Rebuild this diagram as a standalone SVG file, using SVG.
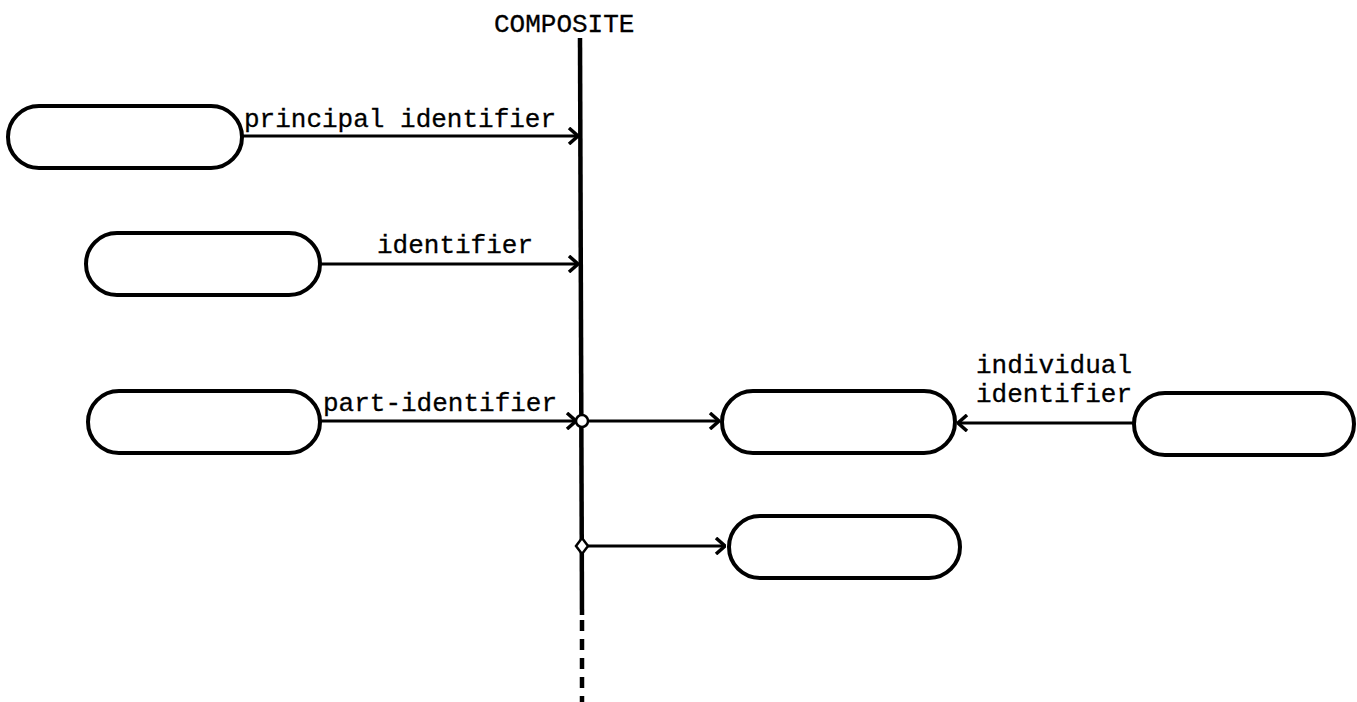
<svg xmlns="http://www.w3.org/2000/svg" width="1357" height="702" viewBox="0 0 1357 702">
<defs>
<style>
.node{fill:#fff;stroke:#000;stroke-width:4}
.edge{fill:none;stroke:#000;stroke-width:3}
.spine{fill:none;stroke:#000;stroke-width:4.5}
.lbl{font-family:"Liberation Mono","DejaVu Sans Mono",monospace;font-size:26px;fill:#000;stroke:#000;stroke-width:0.3}
.junc{fill:#fff;stroke:#000;stroke-width:2.5}
</style>
<marker id="chev" viewBox="0 0 12 18" refX="11" refY="9" markerWidth="12" markerHeight="18" markerUnits="userSpaceOnUse" orient="auto">
<path d="M2,1 L11,9 L2,17" fill="none" stroke="#000" stroke-width="3.5"/>
</marker>
</defs>
<rect width="1357" height="702" fill="#fff"/>
<g id="composite">
<text class="lbl" x="494" y="32">COMPOSITE</text>
<line class="spine" x1="580" y1="38" x2="582" y2="615"/>
<line class="spine" x1="582" y1="620" x2="582" y2="702" stroke-dasharray="11 8"/>
</g>
<g id="connectors">
<line class="edge" x1="242" y1="136" x2="578" y2="136" marker-end="url(#chev)"/>
<text class="lbl" x="244" y="127">principal identifier</text>
<line class="edge" x1="320" y1="264" x2="578" y2="264" marker-end="url(#chev)"/>
<text class="lbl" x="377" y="253">identifier</text>
<line class="edge" x1="320" y1="421" x2="576" y2="421" marker-end="url(#chev)"/>
<text class="lbl" x="323" y="411">part-identifier</text>
<line class="edge" x1="588" y1="421" x2="719" y2="421" marker-end="url(#chev)"/>
<line class="edge" x1="588" y1="546" x2="725" y2="546" marker-end="url(#chev)"/>
<line class="edge" x1="1134" y1="423" x2="958" y2="423" marker-end="url(#chev)"/>
<text class="lbl" x="976" y="373">individual</text>
<text class="lbl" x="976" y="402">identifier</text>
<circle class="junc" cx="582" cy="421" r="6"/>
<path class="junc" d="M582,538 L588,546 L582,554 L576,546 Z"/>
</g>
<g id="node1"><rect class="node" x="8" y="106" width="234" height="62" rx="31"/></g>
<g id="node2"><rect class="node" x="86" y="233" width="234" height="62" rx="31"/></g>
<g id="node3"><rect class="node" x="88" y="391" width="232" height="62" rx="31"/></g>
<g id="node4"><rect class="node" x="722" y="391" width="233" height="62" rx="31"/></g>
<g id="node5"><rect class="node" x="1134" y="393" width="220" height="62" rx="31"/></g>
<g id="node6"><rect class="node" x="729" y="516" width="231" height="62" rx="31"/></g>
</svg>
